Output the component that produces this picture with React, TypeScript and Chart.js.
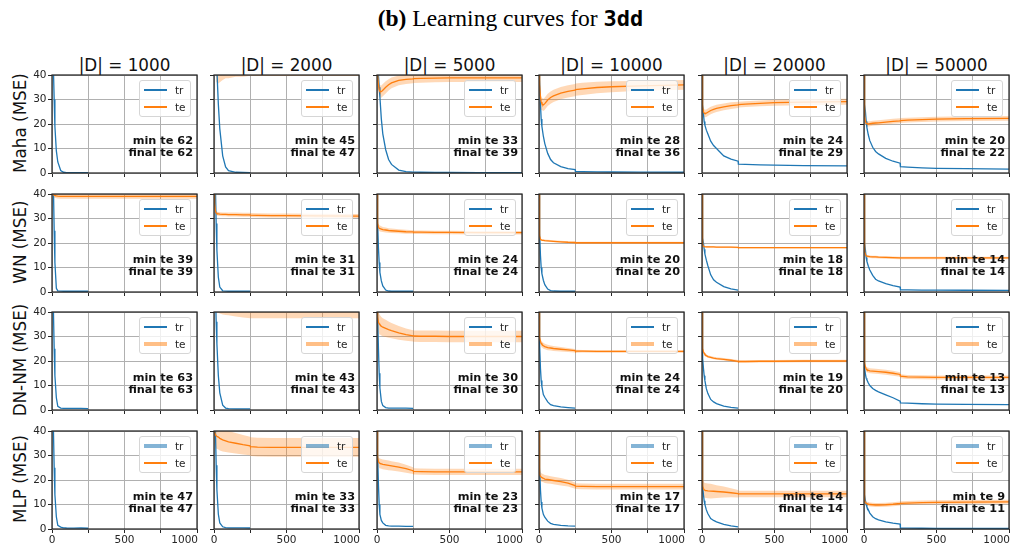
import React, { useEffect, useRef } from 'react';
import { Chart, registerables } from 'chart.js';
Chart.register(...registerables);

const N = null;
const EPOCHS = [0, 3, 6, 10, 15, 20, 30, 40, 60, 80, 100, 150, 200, 249, 251, 300, 400, 500, 700, 1000];
const SIZES = ['1000', '2000', '5000', '10000', '20000', '50000'];
const MODELS = ['Maha', 'WN', 'DN-NM', 'MLP'];
const X_TICK_LABELS = [0, 500, 1000];

// ---- Maha ----
const TR_MAHA = [
  [100, 75, 58, 42, 30, 19, 9, 4.5, 1, 0.3, 0.15, 0.1, 0.1, 0.1, N, N, N, N, N, N],
  [100, 85, 72, 60, 50, 42, 28, 18, 7, 2.5, 1, 0.3, 0.2, 0.15, N, N, N, N, N, N],
  [100, 70, 50, 40, 35, 31, 22, 16, 9.5, 5.5, 3.5, 1.2, 0.6, 0.4, 0.35, 0.3, 0.25, 0.2, 0.15, 0.1],
  [70, 48, 38, 28, 22, 19, 15, 12, 8, 5.5, 4.2, 2.6, 1.8, 1.4, 0.7, 0.6, 0.5, 0.4, 0.35, 0.3],
  [40, 33, 28, 24, 21, 19.5, 17.5, 16, 13, 11.2, 10, 7, 5.7, 4.8, 3.6, 3.5, 3.3, 3.2, 3.05, 2.9],
  [40, 32, 28, 25, 21, 18.5, 15.5, 13.2, 10.5, 8.8, 7.8, 6, 4.8, 4, 2.6, 2.4, 2.1, 1.9, 1.75, 1.6],
];
const TE_MAHA = [
  [80, 75, 70, 66, 64, 63, 62.5, 62, 62, 62, 62, 62, 62, 62, 62, 62, 62, 62, 62, 62],
  [80, 70, 60, 52, 48, 46, 45, 45, 45.5, 46, 46, 46.5, 46.5, 47, 47, 47, 47, 47, 47, 47],
  [70, 50, 40, 36, 34, 33.3, 33.2, 33.8, 35, 36, 36.8, 37.8, 38.2, 38.4, 38.5, 38.6, 38.7, 38.8, 38.8, 38.8],
  [60, 45, 36, 31, 29, 28.2, 27.8, 28.3, 29.8, 30.8, 31.5, 32.6, 33.3, 33.8, 34, 34.3, 34.9, 35.2, 35.6, 36],
  [40, 32, 27, 25, 24.5, 24.3, 24.4, 24.8, 25.5, 26, 26.4, 27, 27.5, 27.8, 27.9, 28.1, 28.4, 28.7, 28.9, 29.1],
  [40, 28, 23, 21, 20.3, 20.1, 20, 20.1, 20.3, 20.4, 20.5, 20.8, 21.1, 21.3, 21.4, 21.6, 21.8, 22, 22.2, 22.3],
];
const SD_MAHA = [
  [3, 3, 3, 3, 3, 3, 3, 3, 3, 3, 3, 3, 3, 3, 3, 3, 3, 3, 3, 3],
  [20, 15, 10, 9, 9, 9, 8.5, 8, 7.5, 7.3, 7.3, 7.2, 7.2, 7.3, 7.3, 7.4, 7.4, 7.4, 7.4, 7.4],
  [5, 4, 3, 2.5, 2.5, 2.5, 2.5, 2.5, 2.5, 2.3, 2.2, 2, 1.9, 1.8, 1.8, 1.8, 1.7, 1.7, 1.7, 1.7],
  [5, 3, 2.5, 2.5, 2.5, 2.5, 2.5, 2.5, 2.5, 2.5, 2.5, 2.5, 2.5, 2.5, 2.5, 2.5, 2.3, 2.2, 2, 2],
  [3, 2, 1.5, 1.5, 1.5, 1.5, 1.5, 1.5, 1.5, 1.5, 1.5, 1.4, 1.4, 1.3, 1.2, 1.2, 1.2, 1.2, 1.2, 1.2],
  [2, 1.5, 1.2, 1, 1, 1, 1, 1, 1, 1, 1, 1, 1, 1, 1, 1, 1, 1, 1, 1],
];
const MIN_MAHA = [62, 45, 33, 28, 24, 20];
const FINAL_MAHA = [62, 47, 39, 36, 29, 22];

// ---- WN ----
const TR_WN = [
  [100, 75, 58, 42, 25, 12, 1.5, 0.5, 0.35, 0.3, 0.3, 0.3, 0.3, 0.3, N, N, N, N, N, N],
  [100, 75, 58, 42, 28, 17, 6, 2, 0.5, 0.35, 0.3, 0.3, 0.3, 0.3, N, N, N, N, N, N],
  [100, 40, 28, 18, 12, 8, 4.5, 2.5, 0.8, 0.4, 0.3, 0.3, 0.3, 0.3, N, N, N, N, N, N],
  [100, 38, 24, 15, 10, 7.5, 4.8, 3, 1.2, 0.6, 0.4, 0.3, 0.3, 0.3, N, N, N, N, N, N],
  [60, 26, 22, 20, 17.5, 15.5, 13, 10.8, 7, 5, 4, 2.2, 1.3, 0.8, N, N, N, N, N, N],
  [40, 24, 20, 17, 14, 12.5, 10.5, 9, 6.8, 5.2, 4.5, 3.4, 2.6, 2, 0.9, 0.85, 0.8, 0.75, 0.72, 0.7],
];
const TE_WN = [
  [45, 41, 40, 39.7, 39.5, 39.4, 39.2, 39.1, 39, 39, 39, 39, 39, 39, 39, 39, 39, 39, 39, 39],
  [60, 42, 36, 33, 32.3, 32, 31.9, 31.8, 31.7, 31.7, 31.6, 31.6, 31.5, 31.5, 31.4, 31.3, 31.2, 31.2, 31.1, 31],
  [60, 32, 28, 26.5, 26, 25.9, 25.7, 25.5, 25.3, 25.1, 25, 24.8, 24.6, 24.5, 24.4, 24.4, 24.3, 24.3, 24.2, 24.2],
  [60, 28, 23, 21.5, 21.3, 21.2, 21.1, 21, 20.9, 20.8, 20.7, 20.5, 20.3, 20.2, 20.1, 20.1, 20.1, 20.1, 20.1, 20.1],
  [40, 22, 19.5, 18.6, 18.5, 18.5, 18.4, 18.4, 18.4, 18.4, 18.3, 18.3, 18.3, 18.2, 18.1, 18.1, 18.1, 18.1, 18.1, 18.1],
  [40, 20, 16.5, 15.3, 14.8, 14.6, 14.5, 14.4, 14.3, 14.3, 14.2, 14.1, 14, 13.9, 13.9, 13.9, 13.9, 13.9, 13.9, 13.9],
];
const SD_WN = [
  [1, 1, 1, 0.9, 0.9, 0.9, 0.9, 0.9, 0.9, 0.9, 0.9, 0.9, 0.9, 0.9, 0.9, 0.9, 0.9, 0.9, 0.9, 0.9],
  [2, 1.5, 1, 0.9, 0.8, 0.8, 0.8, 0.8, 0.8, 0.8, 0.8, 0.8, 0.8, 0.8, 0.8, 0.8, 0.8, 0.8, 0.8, 0.8],
  [3, 1.8, 1.5, 1.4, 1.3, 1.2, 1.1, 1, 1, 0.9, 0.9, 0.8, 0.8, 0.7, 0.7, 0.7, 0.7, 0.7, 0.7, 0.7],
  [2, 1, 0.6, 0.5, 0.4, 0.4, 0.4, 0.4, 0.4, 0.4, 0.4, 0.4, 0.4, 0.4, 0.4, 0.4, 0.4, 0.4, 0.4, 0.4],
  [1, 0.6, 0.4, 0.3, 0.3, 0.3, 0.3, 0.3, 0.3, 0.3, 0.3, 0.3, 0.3, 0.3, 0.3, 0.3, 0.3, 0.3, 0.3, 0.3],
  [1, 0.8, 0.6, 0.5, 0.5, 0.5, 0.5, 0.5, 0.5, 0.5, 0.5, 0.5, 0.5, 0.5, 0.5, 0.5, 0.5, 0.5, 0.5, 0.5],
];
const MIN_WN = [39, 31, 24, 20, 18, 14];
const FINAL_WN = [39, 31, 24, 20, 18, 14];

// ---- DN-NM ----
const TR_DN = [
  [100, 75, 55, 40, 25, 14, 5, 1.5, 0.8, 0.7, 0.7, 0.65, 0.7, 0.6, N, N, N, N, N, N],
  [100, 80, 62, 48, 36, 27, 14, 7, 2, 0.8, 0.6, 0.5, 0.5, 0.5, N, N, N, N, N, N],
  [100, 60, 38, 25, 15, 9, 3.5, 1.8, 1, 0.8, 0.8, 0.75, 0.75, 0.7, N, N, N, N, N, N],
  [100, 40, 26, 17, 12, 9.5, 6.3, 5.2, 3.3, 2.2, 1.8, 1.25, 1, 0.8, N, N, N, N, N, N],
  [40, 25, 21, 17, 14, 12, 8.7, 6.8, 4.3, 3.3, 2.6, 1.6, 1.1, 0.8, N, N, N, N, N, N],
  [40, 22, 17, 14.5, 13, 12.3, 11, 10, 8.8, 8, 7.4, 6.2, 5, 3.6, 2.9, 2.8, 2.55, 2.4, 2.3, 2.2],
];
const TE_DN = [
  [80, 75, 70, 66, 64, 63.5, 63, 63, 63, 63, 63, 63, 63, 63, 63, 63, 63, 63, 63, 63],
  [70, 55, 48, 45, 44, 43.5, 43.2, 43, 43, 43, 43, 43, 43, 43, 43, 43, 43, 43, 43, 43],
  [70, 45, 38, 35.8, 35.2, 34.8, 34.2, 33.8, 33.3, 32.8, 32.4, 31.5, 30.8, 30.3, 30.2, 30.1, 30.1, 30, 30, 30],
  [60, 33, 29.5, 28, 27.2, 26.8, 26.2, 25.9, 25.5, 25.3, 25.1, 24.8, 24.5, 24.2, 24, 24, 23.9, 23.9, 23.9, 23.9],
  [40, 27, 25, 23.8, 23.2, 22.7, 22.2, 21.8, 21.5, 21.2, 21, 20.7, 20.3, 19.9, 19.8, 19.8, 19.9, 19.9, 20, 20],
  [40, 22, 19, 17.5, 16.8, 16.4, 16.2, 16, 15.9, 15.8, 15.7, 15.4, 15, 14.5, 13.8, 13.5, 13.4, 13.3, 13.3, 13.3],
];
const SD_DN = [
  [3, 3, 3, 3, 3, 3, 3, 3, 3, 3, 3, 3, 3, 3, 3, 3, 3, 3, 3, 3],
  [5, 5, 5, 4.5, 4, 3.5, 3.5, 3.6, 4, 4.2, 4.3, 4.8, 5.2, 5.5, 5.5, 5.5, 5.5, 5.5, 5.5, 5.5],
  [4, 4, 4, 4, 4, 4, 3.8, 3.7, 3.5, 3.3, 3.1, 2.8, 2.5, 2.3, 2.3, 2.3, 2.3, 2.3, 2.3, 2.3],
  [3, 2, 1.5, 1.3, 1.2, 1.2, 1.2, 1.1, 1.1, 1, 1, 0.9, 0.8, 0.7, 0.6, 0.5, 0.5, 0.5, 0.5, 0.5],
  [1.5, 1, 0.8, 0.7, 0.6, 0.6, 0.5, 0.5, 0.5, 0.5, 0.5, 0.5, 0.5, 0.5, 0.5, 0.5, 0.5, 0.5, 0.5, 0.5],
  [2, 1.2, 1, 1, 1, 1, 1, 1, 1, 1, 1, 1, 1, 0.9, 0.8, 0.8, 0.8, 0.8, 0.8, 0.8],
];
const MIN_DN = [63, 43, 30, 24, 19, 13];
const FINAL_DN = [63, 43, 30, 24, 20, 13];

// ---- MLP ----
const TR_MLP = [
  [100, 75, 55, 40, 25, 14, 5, 1.5, 0.8, 0.5, 0.4, 0.35, 0.4, 0.3, N, N, N, N, N, N],
  [100, 75, 55, 40, 26, 16, 6, 2.5, 0.9, 0.6, 0.5, 0.5, 0.5, 0.4, N, N, N, N, N, N],
  [100, 55, 30, 18, 10, 6, 3.5, 2.5, 1.5, 1.3, 1.2, 1.2, 1.1, 1.1, N, N, N, N, N, N],
  [100, 45, 25, 16, 11, 8.5, 6, 4.8, 3.2, 2.3, 1.9, 1.5, 1.3, 1.2, N, N, N, N, N, N],
  [40, 22, 17, 14, 11.5, 10, 7.8, 6.3, 4.3, 3.5, 2.9, 1.9, 1.3, 0.9, N, N, N, N, N, N],
  [40, 18, 14, 11.5, 10, 9, 7.8, 6.5, 5, 4.2, 3.7, 2.9, 2.4, 2, 0.4, 0.35, 0.3, 0.25, 0.2, 0.2],
];
const TE_MLP = [
  [80, 70, 60, 52, 49, 48, 47.5, 47, 47, 47, 47, 47, 47, 47, 47, 47, 47, 47, 47, 47],
  [60, 42, 39.5, 38.5, 38, 37.8, 37.5, 37, 36.4, 36, 35.6, 35, 34.4, 33.9, 33.6, 33.4, 33.3, 33.3, 33.3, 33.3],
  [60, 33, 29, 27.5, 27, 26.8, 26.6, 26.4, 26.2, 26, 25.8, 25.3, 24.6, 23.8, 23.5, 23.4, 23.3, 23.3, 23.3, 23.3],
  [50, 24, 22.2, 21.5, 21.2, 21, 20.7, 20.4, 20.2, 20, 19.8, 19.3, 18.7, 17.7, 17.5, 17.4, 17.3, 17.3, 17.3, 17.3],
  [40, 20, 17.5, 16.5, 16, 15.8, 15.7, 15.6, 15.5, 15.4, 15.3, 15.1, 14.8, 14.4, 14.3, 14.3, 14.3, 14.3, 14.3, 14.3],
  [40, 14, 11.5, 10.8, 10.5, 10.3, 10.2, 10, 9.9, 9.8, 9.8, 9.9, 10.1, 10.4, 10.5, 10.6, 10.8, 10.9, 11, 11.1],
];
const SD_MLP = [
  [3, 3, 3, 3, 3, 3, 3, 3, 3, 3, 3, 3, 3, 3, 3, 3, 3, 3, 3, 3],
  [5, 5, 5, 5, 5, 5, 5, 5, 4.8, 4.6, 4.4, 4.2, 4, 3.8, 3.8, 3.8, 3.8, 3.8, 3.8, 3.8],
  [3, 2.2, 2, 2, 2, 2, 2, 2, 2, 2, 1.9, 1.8, 1.6, 1.4, 1.3, 1.3, 1.3, 1.3, 1.3, 1.3],
  [3, 2, 1.8, 1.8, 1.7, 1.7, 1.6, 1.6, 1.6, 1.5, 1.5, 1.5, 1.4, 1.3, 1.2, 1.2, 1.2, 1.2, 1.2, 1.2],
  [3, 3, 3, 3, 3, 3, 3, 3, 3, 2.8, 2.6, 2.2, 1.8, 1.5, 1.3, 1.3, 1.3, 1.3, 1.3, 1.3],
  [1, 0.8, 0.8, 0.8, 0.8, 0.8, 0.8, 0.8, 0.8, 0.8, 0.8, 0.8, 0.8, 0.8, 0.8, 0.8, 0.8, 0.8, 0.8, 0.8],
];
const MIN_MLP = [47, 33, 23, 17, 14, 9];
const FINAL_MLP = [47, 33, 23, 17, 14, 11];

const TR = [TR_MAHA, TR_WN, TR_DN, TR_MLP];
const TE = [TE_MAHA, TE_WN, TE_DN, TE_MLP];
const SD = [SD_MAHA, SD_WN, SD_DN, SD_MLP];
const MINS = [MIN_MAHA, MIN_WN, MIN_DN, MIN_MLP];
const FINALS = [FINAL_MAHA, FINAL_WN, FINAL_DN, FINAL_MLP];

// ---- layout / style ----
const COL_LEFT = [52, 214, 377, 539, 702, 864];
const ROW_TOP = [75, 194, 312, 431];
const PW = 145;
const PH = 98;
const AXW = 34;
const PADT = 8;
const PADR = 18;
const AXH = 22;
const BLUE = '#1f77b4';
const ORANGE = '#ff7f0e';
const BAND = 'rgba(255,127,14,0.3)';
const GRID = '#b0b0b0';
const SPINE = '#262626';
const FONT = '"DejaVu Sans", sans-serif';

const spinePlugin = {
  id: 'spines',
  afterDatasetsDraw(chart: any) {
    const { ctx, chartArea } = chart;
    ctx.save();
    ctx.strokeStyle = SPINE;
    ctx.lineWidth = 1.25;
    ctx.strokeRect(chartArea.left, chartArea.top, chartArea.right - chartArea.left, chartArea.bottom - chartArea.top);
    ctx.restore();
  },
};

const lastLabelPlugin = {
  id: 'lastLabelRight',
  beforeDraw(chart: any) {
    const s = chart.scales.x;
    if (!s || !s.getLabelItems) return;
    const items = s.getLabelItems();
    const last = items && items[items.length - 1];
    if (last && last.label && last.options) {
      last.options.textAlign = 'right';
      if (last.options.translation) last.options.translation[0] += 1;
    }
  },
};

function Panel({ r, c }: { r: number; c: number }) {
  const ref = useRef<HTMLCanvasElement>(null);
  const left = c === 0;
  const bottom = r === 3;
  useEffect(() => {
    const tr = TR[r][c];
    const te = TE[r][c];
    const sd = SD[r][c];
    const pts = (vals: any[]) => EPOCHS.map((x, i) => ({ x, y: vals[i] }));
    const upper = te.map((v, i) => v + sd[i]);
    const lower = te.map((v, i) => v - sd[i]);
    const chart = new Chart(ref.current as HTMLCanvasElement, {
      type: 'line',
      data: {
        datasets: [
          { data: pts(upper), fill: '+1', backgroundColor: BAND, borderColor: 'transparent', borderWidth: 0, pointRadius: 0, order: 3 },
          { data: pts(lower), fill: false, borderColor: 'transparent', borderWidth: 0, pointRadius: 0, order: 2 },
          { data: pts(tr), fill: false, borderColor: BLUE, borderWidth: 1.3, pointRadius: 0, order: 1, tension: 0 },
          { data: pts(te), fill: false, borderColor: ORANGE, borderWidth: 1.3, pointRadius: 0, order: 0, tension: 0 },
        ],
      } as any,
      options: {
        animation: false,
        responsive: false,
        devicePixelRatio: 1,
        events: [],
        layout: { padding: { top: PADT, right: PADR, left: 0, bottom: 0 } },
        plugins: { legend: { display: false }, tooltip: { enabled: false } },
        scales: {
          x: {
            type: 'linear',
            min: 0,
            max: 1000,
            afterFit: (s: any) => { s.height = AXH; },
            ticks: {
              stepSize: 250,
              autoSkip: false,
              maxRotation: 0,
              padding: 1,
              color: SPINE,
              font: { family: FONT, size: 10.5 },
              callback: (v: any) => (bottom && X_TICK_LABELS.includes(Number(v)) ? String(v) : ''),
            },
            grid: { color: GRID, lineWidth: 1, drawTicks: true, tickLength: 4, tickColor: SPINE, tickWidth: 1 },
            border: { display: false },
          },
          y: {
            type: 'linear',
            min: 0,
            max: 40,
            afterFit: (s: any) => { s.width = AXW; },
            ticks: {
              stepSize: 10,
              padding: 1.5,
              color: SPINE,
              font: { family: FONT, size: 10.5 },
              callback: (v: any) => (left ? String(v) : ''),
            },
            grid: { color: GRID, lineWidth: 1, drawTicks: true, tickLength: 4, tickColor: SPINE, tickWidth: 1 },
            border: { display: false },
          },
        },
      } as any,
      plugins: [spinePlugin, lastLabelPlugin],
    });
    return () => chart.destroy();
  }, [r, c]);

  const W = AXW + PW + PADR;
  const H = PADT + PH + AXH;
  const px = COL_LEFT[c];
  const py = ROW_TOP[r];
  const trThick = r === 3;
  const teThick = r === 2;
  const handle = (color: string, thick: boolean) => (
    <div
      style={{
        position: 'absolute',
        left: 4,
        width: 23,
        top: thick ? -2 : -0.7,
        height: thick ? 4 : 1.4,
        background: thick ? (color === BLUE ? 'rgba(31,119,180,0.55)' : 'rgba(255,127,14,0.5)') : color,
      }}
    />
  );
  return (
    <>
      <canvas
        ref={ref}
        width={W}
        height={H}
        style={{ position: 'absolute', left: px - AXW, top: py - PADT, width: W, height: H }}
      />
      <div
        style={{
          position: 'absolute',
          left: px + PW - 6 - 52,
          top: py + 5,
          width: 52,
          height: 37,
          boxSizing: 'border-box',
          border: '1px solid #d6d6d6',
          borderRadius: 3,
          background: 'rgba(255,255,255,0.8)',
          fontFamily: FONT,
          fontSize: 10.5,
          color: SPINE,
        }}
      >
        <div style={{ position: 'absolute', left: 0, top: 9, width: 50 }}>
          {handle(BLUE, trThick)}
          <span style={{ position: 'absolute', left: 35, top: -7, lineHeight: '14px' }}>tr</span>
        </div>
        <div style={{ position: 'absolute', left: 0, top: 26, width: 50 }}>
          {handle(ORANGE, teThick)}
          <span style={{ position: 'absolute', left: 35, top: -7, lineHeight: '14px' }}>te</span>
        </div>
      </div>
      <div
        style={{
          position: 'absolute',
          left: px,
          width: PW - 4,
          top: py + 60,
          textAlign: 'right',
          fontFamily: FONT,
          fontWeight: 'bold',
          fontSize: 11.3,
          lineHeight: '12.4px',
          color: '#111',
          whiteSpace: 'nowrap',
        }}
      >
        <div>min te {MINS[r][c]}</div>
        <div>final te {FINALS[r][c]}</div>
      </div>
    </>
  );
}

export default function App() {
  const panels = [];
  for (let r = 0; r < 4; r++) for (let c = 0; c < 6; c++) panels.push(<Panel key={r + '-' + c} r={r} c={c} />);
  return (
    <div
      style={{
        position: 'absolute',
        left: 0,
        top: 0,
        width: 1011,
        height: 546,
        background: '#fff',
        overflow: 'hidden',
        fontFamily: FONT,
        color: '#111',
      }}
    >
      <div
        style={{
          position: 'absolute',
          left: 5,
          top: 5,
          width: 1011,
          textAlign: 'center',
          fontFamily: '"Liberation Serif", serif',
          fontSize: 23.5,
          lineHeight: '26px',
          whiteSpace: 'nowrap',
          color: '#000',
        }}
      >
        <b>(b)</b> Learning curves for <b style={{ fontFamily: '"DejaVu Sans Mono", monospace', fontSize: 22 }}>3dd</b>
      </div>
      {SIZES.map((s, c) => (
        <div
          key={'h' + s}
          style={{
            position: 'absolute',
            left: COL_LEFT[c] + PW / 2 - 70,
            width: 140,
            top: 55.2,
            textAlign: 'center',
            fontSize: 16.8,
            lineHeight: '20px',
            whiteSpace: 'nowrap',
          }}
        >
          |D| = {s}
        </div>
      ))}
      {MODELS.map((m, r) => (
        <div
          key={'m' + m}
          style={{
            position: 'absolute',
            left: 20,
            top: ROW_TOP[r] + PH / 2 - 1,
            transform: 'translate(-50%, -50%) rotate(-90deg)',
            fontSize: 16.8,
            lineHeight: '20px',
            whiteSpace: 'nowrap',
          }}
        >
          {m} (MSE)
        </div>
      ))}
      {panels}
    </div>
  );
}
